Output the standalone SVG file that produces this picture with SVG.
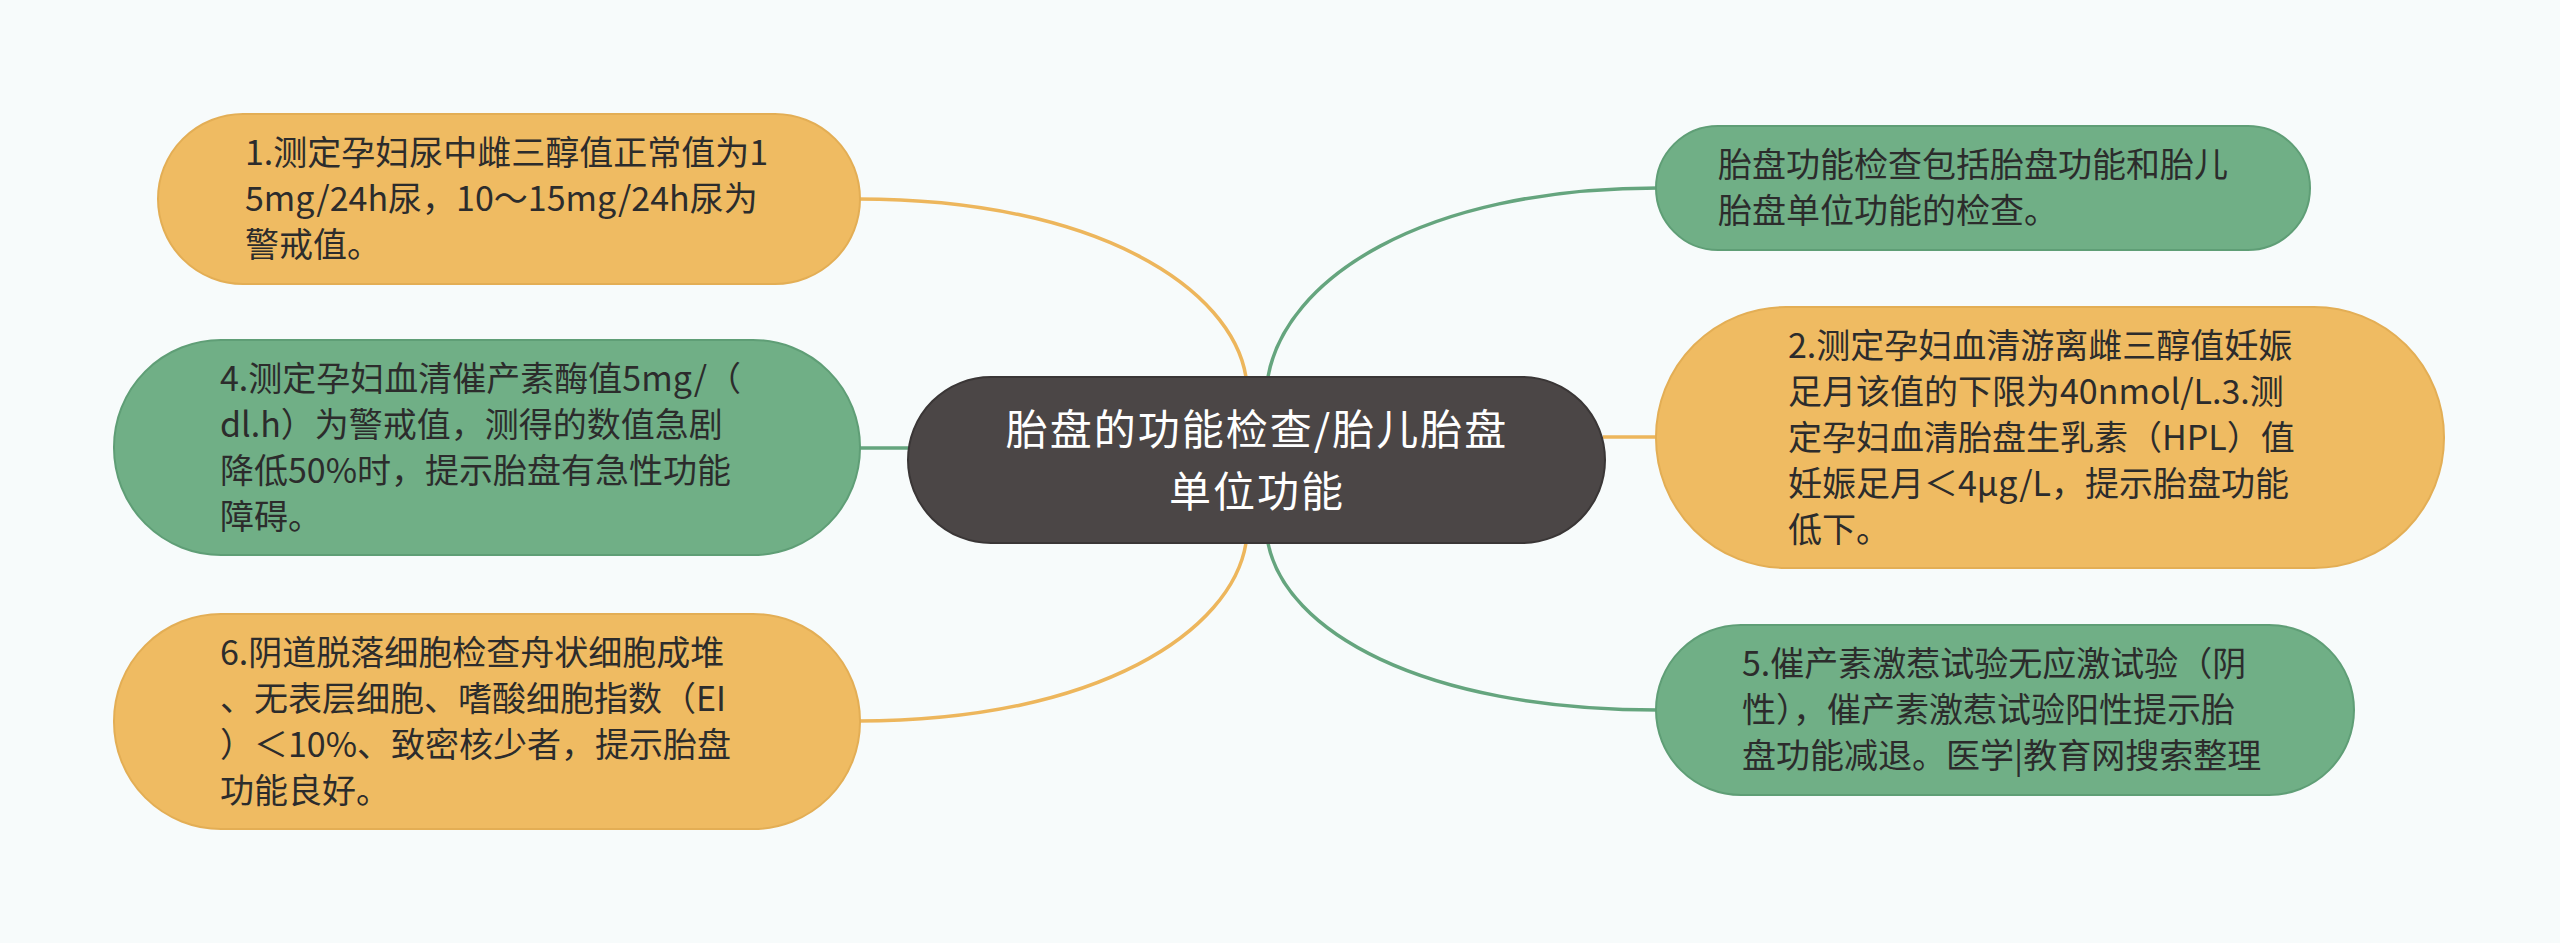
<svg xmlns="http://www.w3.org/2000/svg" width="2560" height="943" viewBox="0 0 2560 943">
<style>
.bg{fill:#F7FBFB}
.org{fill:#EFBB62;stroke:#E3AE55;stroke-width:2}
.grn{fill:#70AF86;stroke:#5F9E76;stroke-width:2}
.ctr{fill:#4B4646;stroke:#3A3636;stroke-width:2}
.t{font-family:"Noto Sans CJK SC","Noto Sans",sans-serif;font-size:34px;fill:#2C2C2C}
.tc{font-family:"Noto Sans CJK SC","Noto Sans",sans-serif;font-size:42px;letter-spacing:2px;fill:#FFFFFF;text-anchor:middle}
.co{fill:none;stroke:#EDB65C;stroke-width:3.5}
.cg{fill:none;stroke:#65A57E;stroke-width:3.5}
</style>
<rect class="bg" x="0" y="0" width="2560" height="943"/>
<g id="connectors">
<path class="co" d="M 858 199 C 1100 199 1232 290 1246 377"/>
<path class="cg" d="M 858 448 L 910 448"/>
<path class="co" d="M 858 721 C 1100 721 1232 630 1246 543"/>
<path class="cg" d="M 1658 188 C 1420 188 1285 280 1268 377"/>
<path class="co" d="M 1603 437 L 1658 437"/>
<path class="cg" d="M 1658 710 C 1420 710 1285 630 1268 543"/>
</g>
<g id="center">
<rect class="ctr" x="908" y="377" width="697" height="166" rx="83" ry="83"/>
<text class="tc" x="1257" y="445">胎盘的功能检查/胎儿胎盘</text>
<text class="tc" x="1257" y="507">单位功能</text>
</g>
<g id="node1">
<rect class="org" x="158" y="114" width="702" height="170" rx="85" ry="85"/>
<text class="t" x="245" y="165">1.测定孕妇尿中雌三醇值正常值为1</text>
<text class="t" x="245" y="211">5mg/24h尿，10～15mg/24h尿为</text>
<text class="t" x="245" y="257">警戒值。</text>
</g>
<g id="node4">
<rect class="grn" x="114" y="340" width="746" height="215" rx="107" ry="107"/>
<text class="t" x="220" y="391">4.测定孕妇血清催产素酶值5mg/（</text>
<text class="t" x="220" y="437">dl.h）为警戒值，测得的数值急剧</text>
<text class="t" x="220" y="483">降低50%时，提示胎盘有急性功能</text>
<text class="t" x="220" y="529">障碍。</text>
</g>
<g id="node6">
<rect class="org" x="114" y="614" width="746" height="215" rx="107" ry="107"/>
<text class="t" x="220" y="665">6.阴道脱落细胞检查舟状细胞成堆</text>
<text class="t" x="220" y="711">、无表层细胞、嗜酸细胞指数（EI</text>
<text class="t" x="220" y="757">）＜10%、致密核少者，提示胎盘</text>
<text class="t" x="220" y="803">功能良好。</text>
</g>
<g id="nodeTR">
<rect class="grn" x="1656" y="126" width="654" height="124" rx="62" ry="62"/>
<text class="t" x="1718" y="177">胎盘功能检查包括胎盘功能和胎儿</text>
<text class="t" x="1718" y="223">胎盘单位功能的检查。</text>
</g>
<g id="node2">
<rect class="org" x="1656" y="307" width="788" height="261" rx="130" ry="130"/>
<text class="t" x="1788" y="358">2.测定孕妇血清游离雌三醇值妊娠</text>
<text class="t" x="1788" y="404">足月该值的下限为40nmol/L.3.测</text>
<text class="t" x="1788" y="450">定孕妇血清胎盘生乳素（HPL）值</text>
<text class="t" x="1788" y="496">妊娠足月＜4μg/L，提示胎盘功能</text>
<text class="t" x="1788" y="542">低下。</text>
</g>
<g id="node5">
<rect class="grn" x="1656" y="625" width="698" height="170" rx="85" ry="85"/>
<text class="t" x="1742" y="676">5.催产素激惹试验无应激试验（阴</text>
<text class="t" x="1742" y="722">性），催产素激惹试验阳性提示胎</text>
<text class="t" x="1742" y="768">盘功能减退。医学|教育网搜索整理</text>
</g>
</svg>
